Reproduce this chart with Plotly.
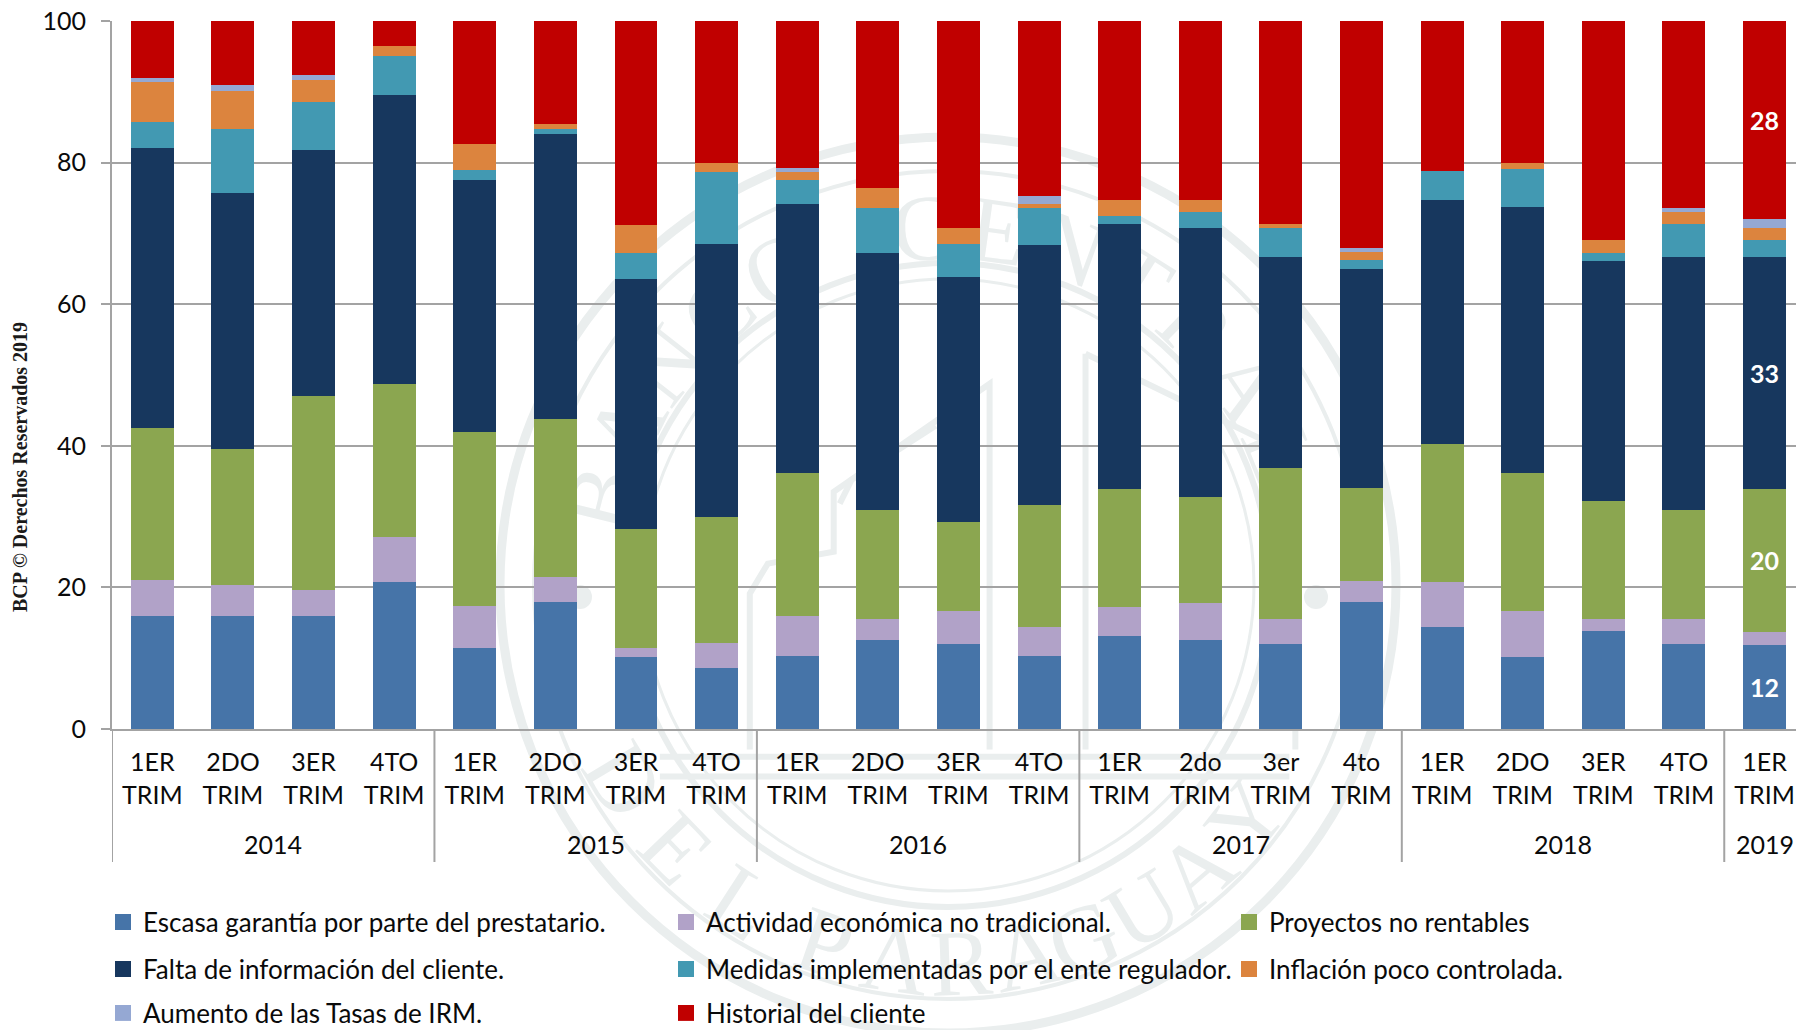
import math
import plotly.graph_objects as go

years = ["2014"]*4 + ["2015"]*4 + ["2016"]*4 + ["2017"]*4 + ["2018"]*4 + ["2019"]
Q = ["1ER<br>TRIM", "2DO<br>TRIM", "3ER<br>TRIM", "4TO<br>TRIM"]
q_low = ["1ER<br>TRIM", "2do<br>TRIM", "3er<br>TRIM", "4to<br>TRIM"]
quarters = Q*3 + q_low + Q + Q[:1]
positions = list(range(len(quarters)))

escasa = [16,15.9,15.9,20.8,11.5,18,10.2,8.6,10.3,12.6,12,10.3,13.2,12.6,12,18,14.4,10.1,13.8,12,11.9]
actividad = [5,4.5,3.8,6.3,5.9,3.5,1.3,3.5,5.7,2.9,4.7,4.1,4.1,5.2,3.5,2.9,6.3,6.6,1.7,3.5,1.8]
proyectos = [21.5,19.1,27.3,21.6,24.6,22.3,16.8,17.8,20.2,15.5,12.6,17.2,16.6,15,21.3,13.2,19.5,19.5,16.7,15.5,20.2]
falta = [39.5,36.2,34.8,40.9,35.5,40.2,35.2,38.6,37.9,36.2,34.5,36.8,37.4,37.9,29.9,30.9,34.5,37.6,33.9,35.7,32.8]
medidas = [3.7,9.1,6.8,5.4,1.5,0.7,3.8,10.2,3.4,6.4,4.7,5.2,1.1,2.3,4,1.2,4.1,5.3,1.1,4.6,2.3]
inflacion = [5.7,5.3,3,1.5,3.6,0.7,3.9,1.2,1.2,2.8,2.2,0.6,2.3,1.7,0.6,1.2,0,0.8,1.8,1.7,1.8]
aumento = [0.6,0.8,0.8,0,0,0,0,0,0.6,0,0,1.1,0,0,0,0.6,0,0,0,0.6,1.2]
historial = [8,9.1,7.6,3.5,17.4,14.6,28.8,20.1,20.7,23.6,29.3,24.7,25.3,25.3,28.7,32,21.2,20.1,31,26.4,28]

series = [
    ("Escasa garantía por parte del prestatario.", escasa, "#4674A8", "12"),
    ("Actividad económica no tradicional.", actividad, "#B1A2C8", ""),
    ("Proyectos no rentables", proyectos, "#8BA650", "20"),
    ("Falta de información del cliente.", falta, "#17375E", "33"),
    ("Medidas implementadas por el ente regulador.", medidas, "#4299B2", ""),
    ("Inflación poco controlada.", inflacion, "#DC843E", ""),
    ("Aumento de las Tasas de IRM.", aumento, "#95A8D3", ""),
    ("Historial del cliente", historial, "#C00000", "28"),
]
legend_cells = [(0,0),(1,0),(2,0),(0,1),(1,1),(2,1),(0,2),(1,2)]
legend_rows = [922, 969, 1013]

W, H = 1796, 1030
L, T, B = 112, 21, 729
PW, PH = W - L, B - T
FONT = "Lato"
INK = "#0A0A0A"
GRID = "#A3A3A3"
WM = "#EAEEEE"

def px(x): return (x - L) / PW
def py(y): return (B - y) / PH

fig = go.Figure()
legend_layout = {}
for i, (name, vals, color, last) in enumerate(series):
    lid = "legend" if i == 0 else f"legend{i+1}"
    fig.add_bar(x=positions, y=vals, name=name, marker=dict(color=color, line_width=0),
                showlegend=False, legendgroup=name,
                text=[""]*20 + [last], textposition="inside", insidetextanchor="middle",
                textangle=0, constraintext="none",
                textfont=dict(family=FONT, size=25, color="white", weight="bold"),
                customdata=[f"{y} {q.replace('<br>', ' ')}" for y, q in zip(years, quarters)],
                hovertemplate="%{customdata}<br>" + name + ": %{y}<extra></extra>")
    fig.add_scatter(x=[None], y=[None], mode="markers", name=name,
                    legendgroup=name, legend=lid, showlegend=True,
                    marker=dict(symbol="square", size=16, color=color))
    c, r = legend_cells[i]
    legend_layout[lid] = dict(x=px(103 + c*563), y=py(legend_rows[r]), xanchor="left", yanchor="middle",
                              bgcolor="rgba(0,0,0,0)", borderwidth=0, font=dict(family=FONT, size=26, color=INK))

CX, CY = 948, 585
shapes = []
for r, w in [(448, 9), (414, 4), (322, 6), (306, 3)]:
    shapes.append(dict(type="circle", xref="paper", yref="paper", layer="below",
                       x0=px(CX-r), x1=px(CX+r), y0=py(CY+r), y1=py(CY-r),
                       line=dict(color=WM, width=w), fillcolor="rgba(0,0,0,0)"))

def letter(ch, xc, yc, rot):
    shapes.append(dict(type="rect", xref="paper", yref="paper", layer="below",
                       x0=px(xc-40), x1=px(xc+40), y0=py(yc+40), y1=py(yc-40),
                       line=dict(width=0), fillcolor="rgba(0,0,0,0)",
                       label=dict(text=ch, textangle=rot, textposition="middle center",
                                  font=dict(family="Liberation Serif", size=94, color=WM))))

for i, ch in enumerate("BANCO CENTRAL"):
    if ch != " ":
        a = -76 + 12*i
        letter(ch, CX + 368*math.sin(math.radians(a)), CY - 368*math.cos(math.radians(a)), a)
bottom_angles = [-59, -46, -33, None, -19, -8, 2, 12, 21, 31, 41, 52]
for ch, a in zip("DEL PARAGUAY", bottom_angles):
    if a is not None:
        letter(ch, CX + 368*math.sin(math.radians(a)), CY + 368*math.cos(math.radians(a)), -a)

for sx in (-1, 1):
    xd, yd = CX + sx*368, 597
    shapes.append(dict(type="circle", xref="paper", yref="paper", layer="below",
                       x0=px(xd-12), x1=px(xd+12), y0=py(yd+12), y1=py(yd-12),
                       line_width=0, fillcolor=WM))

def poly(points, width=6):
    d = "M" + "L".join(f"{px(480+a/1.668):.5f},{py(120+b/1.668):.5f}" for a, b in points)
    shapes.append(dict(type="path", path=d, xref="paper", yref="paper", layer="below",
                       line=dict(color=WM, width=width)))

poly([(450,1050),(450,790),(480,740),(590,720),(590,620),(850,440),(850,1050)])
poly([(600,640),(620,600),(760,510)])
poly([(1010,390),(1010,1050)])
poly([(1010,390),(1360,560),(1360,1050)])
poly([(300,1062),(1350,1062)])
poly([(300,1095),(1350,1095)])

annotations = [dict(text="<b>BCP © Derechos Reservados 2019</b>", xref="paper", yref="paper",
                    x=px(20), y=py(467), textangle=-90, showarrow=False, xanchor="center", yanchor="middle",
                    font=dict(family="Liberation Serif", size=20, color="#1A1A1A"))]
seen = []
for y in years:
    if y not in seen:
        seen.append(y)
for y in seen:
    idx = [i for i, v in enumerate(years) if v == y]
    annotations.append(dict(text=y, xref="x", yref="paper", x=sum(idx)/len(idx), y=py(844), showarrow=False,
                            xanchor="center", yanchor="middle", font=dict(family=FONT, size=25, color=INK)))
    shapes.append(dict(type="line", xref="x", yref="paper", x0=idx[0]-0.5, x1=idx[0]-0.5, y0=0, y1=py(862),
                       line=dict(color=GRID, width=2)))

fig.update_layout(
    width=W, height=H, barmode="stack", bargap=0.467,
    margin=dict(l=L, r=0, t=T, b=H-B, pad=0, autoexpand=False),
    paper_bgcolor="white", plot_bgcolor="rgba(0,0,0,0)",
    font=dict(family=FONT, color=INK),
    shapes=shapes,
    annotations=annotations,
    xaxis=dict(range=[-0.5, 20.39], tickmode="array", tickvals=positions, ticktext=quarters,
               showgrid=False, zeroline=False, showline=True, linecolor=GRID, linewidth=2,
               ticks="", ticklabelstandoff=10, tickangle=0, tickfont=dict(family=FONT, size=25, color=INK)),
    yaxis=dict(range=[0, 100], tick0=0, dtick=20, showgrid=True, gridcolor=GRID, gridwidth=2,
               showline=True, linecolor=GRID, linewidth=2, ticks="outside", ticklen=9, tickwidth=2, tickcolor=GRID,
               ticklabelstandoff=10, tickfont=dict(family=FONT, size=25, color=INK), zeroline=False),
    **legend_layout,
)

fig.write_html("out.html", config={"displayModeBar": False},
               post_script="document.body.style.margin='0';document.body.style.overflow='hidden';")
